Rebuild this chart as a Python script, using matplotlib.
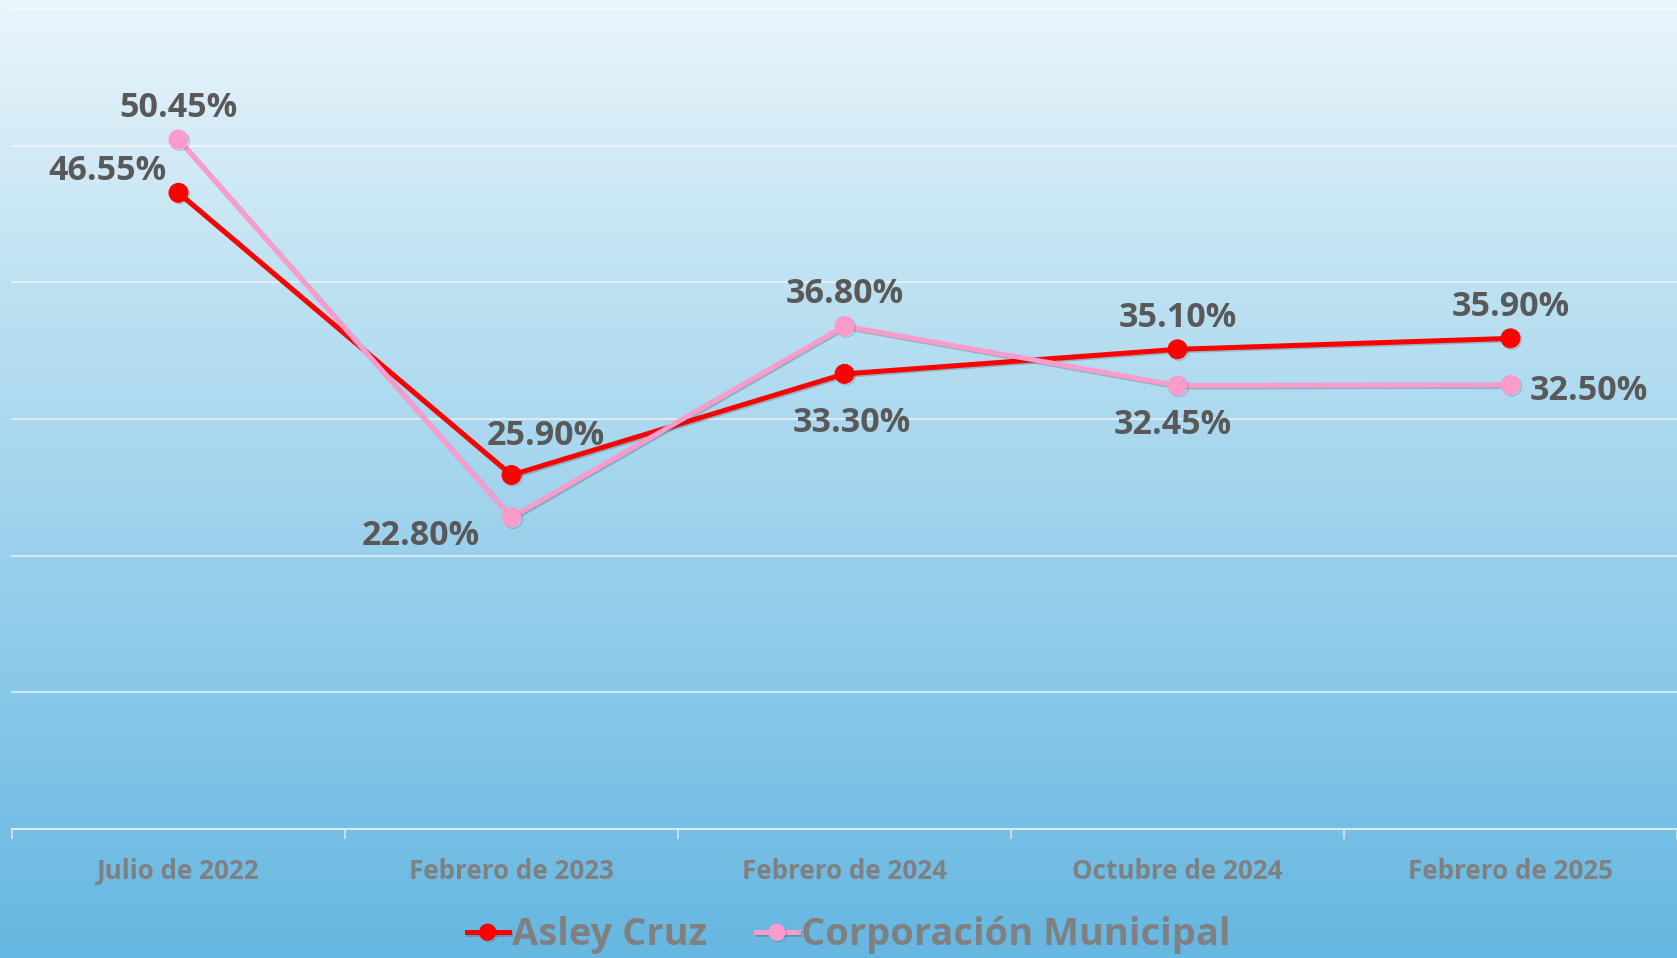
import numpy as np
import matplotlib
matplotlib.use("Agg")
import matplotlib.pyplot as plt
import matplotlib.patheffects as pe
from matplotlib.colors import LinearSegmentedColormap

categories = ["Julio de 2022", "Febrero de 2023", "Febrero de 2024", "Octubre de 2024", "Febrero de 2025"]
asley = [46.55, 25.90, 33.30, 35.10, 35.90]
corpo = [50.45, 22.80, 36.80, 32.45, 32.50]
series_names = ["Asley Cruz", "Corporación Municipal"]

# label offsets (pixels) per point
asley_off = [(-71, 22), (34, 39), (7, -49), (0, 31), (0, 31)]
corpo_off = [(0, 32), (-91, -19), (0, 32), (-5, -39), (78, -6)]

DPI = 72
W, H = 1677, 958
plt.rcParams['font.family'] = ['Open Sans', 'DejaVu Sans']
fig = plt.figure(figsize=(W / DPI, H / DPI), dpi=DPI)

# background gradient
bg = fig.add_axes([0, 0, 1, 1], zorder=-10)
cmap = LinearSegmentedColormap.from_list("bg", ["#EAF5FB", "#B9DFF1", "#8FCBEA", "#66B7E1"])
grad = np.linspace(0, 1, 256).reshape(-1, 1)
bg.imshow(grad, aspect="auto", cmap=cmap, extent=[0, 1, 0, 1], origin="upper")
bg.set_axis_off()

ax = fig.add_axes([12 / W, 1 - 829 / H, 1 - 12 / W, (829 - 9) / H])
ax.patch.set_alpha(0)
x = np.arange(len(categories))
ax.set_xlim(-0.5, len(categories) - 0.5)
ax.set_ylim(0, 60)

for y in range(10, 61, 10):
    ax.axhline(y, color="white", lw=1.5, alpha=0.75, zorder=1, clip_on=False)

shadow = [pe.SimpleLineShadow(offset=(1.5, -1.5), shadow_color="#333333", alpha=0.25), pe.Normal()]
l1, = ax.plot(x, asley, color="#FF0000", lw=5, marker="o", ms=19, zorder=4,
              path_effects=shadow, label=series_names[0])
l2, = ax.plot(x, corpo, color="#F99CCB", lw=5, marker="o", ms=19, zorder=5,
              path_effects=shadow, label=series_names[1])

for vals, offs in ((asley, asley_off), (corpo, corpo_off)):
    for xi, v, (dx, dy) in zip(x, vals, offs):
        ax.annotate(f"{v:.2f}%", (xi, v), xytext=(dx, dy), textcoords="offset points",
                    ha="center", va="center", fontsize=34, fontweight="bold",
                    color="#595959", zorder=6)

for s in ("top", "right", "left"):
    ax.spines[s].set_visible(False)
ax.spines["bottom"].set_color("#DCEAF2")
ax.spines["bottom"].set_linewidth(2)
ax.set_yticks([])
ax.set_xticks(np.arange(-0.5, len(categories), 1.0))
ax.set_xticklabels([])
ax.tick_params(axis="x", which="major", length=10, width=1.5, color="#DCEAF2")
ax.set_xticks(x, minor=True)
ax.set_xticklabels(categories, minor=True, fontsize=26, fontweight="bold", color="#808080")
ax.tick_params(axis="x", which="minor", length=0, pad=29)

leg = fig.legend(handles=[l1, l2], loc="center", bbox_to_anchor=(0.506, 0.0235), ncol=2,
                 frameon=False, handlelength=1.1, handletextpad=0.08, columnspacing=1.3,
                 prop={"size": 38, "weight": "bold"}, markerscale=0.85)
for t in leg.get_texts():
    t.set_color("#808080")

fig.savefig("out.png", dpi=DPI)
